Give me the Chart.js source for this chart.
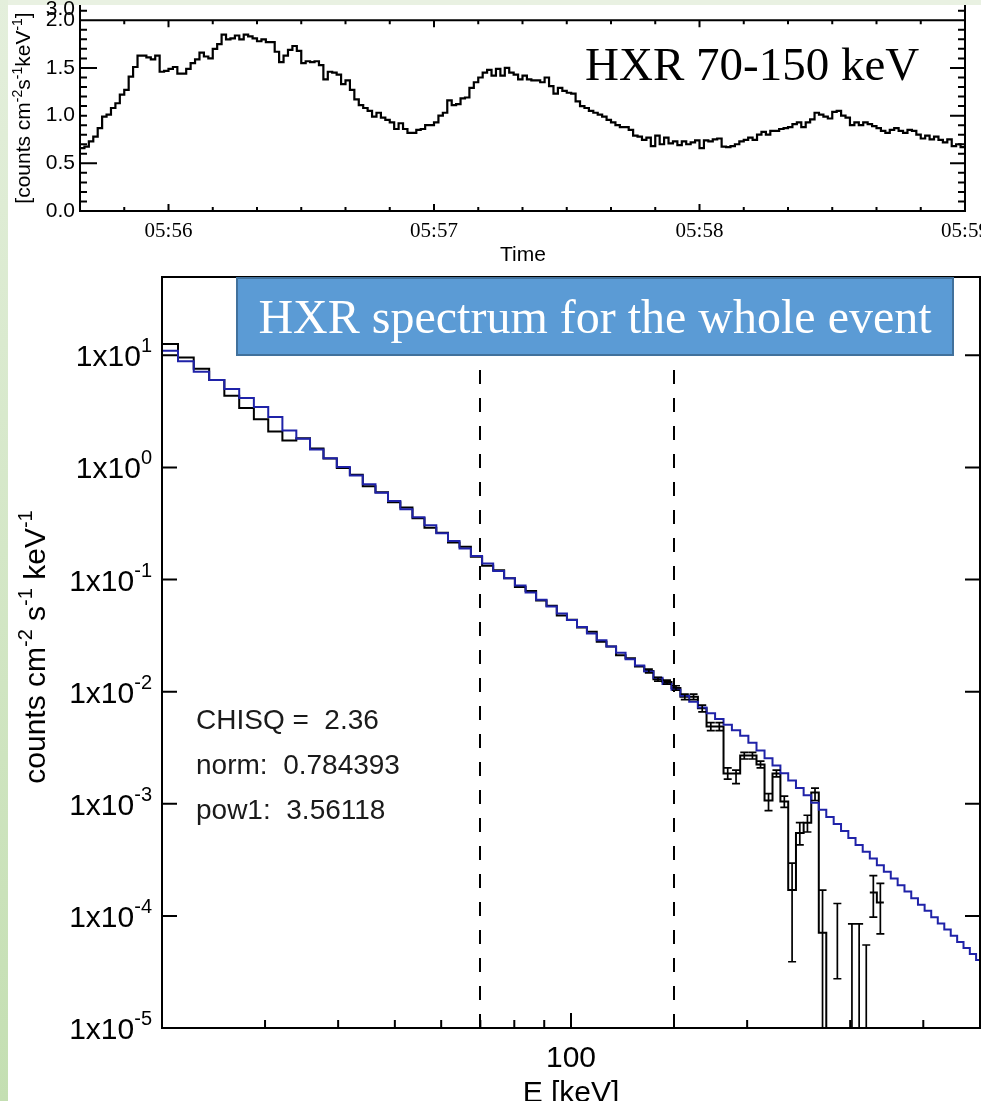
<!DOCTYPE html>
<html>
<head>
<meta charset="utf-8">
<title>HXR light curve and spectrum</title>
<script src="https://cdn.jsdelivr.net/npm/chart.js@4.4.1/dist/chart.umd.min.js"></script>
<style>
  html, body { margin: 0; padding: 0; background: #fff; }
  body { width: 981px; height: 1101px; position: relative; overflow: hidden; }
  #stripTop { position: absolute; left: 0; top: 0; width: 981px; height: 5px; background: #e9f1e2; }
  #stripLeft { position: absolute; left: 0; top: 0; width: 8px; height: 1101px; background: linear-gradient(#e4efdc, #c4dfb2); }
  canvas { position: absolute; left: 0; }
  #lcCanvas { top: 0; }
  #specCanvas { top: 270px; }
</style>
</head>
<body>
<div id="stripTop"></div>
<div id="stripLeft"></div>
<canvas id="lcCanvas" width="981" height="270"></canvas>
<canvas id="specCanvas" width="981" height="831"></canvas>
<script>
// ---- light curve, 70-150 keV, 1 s bins from 05:55:40 ----
const lcStartSec = 0;
const lcBinSec = 1;
const lcRate = [
  0.66, 0.675, 0.73, 0.78, 0.87, 0.99, 1.01, 1.08, 1.13, 1.22,
  1.27, 1.41, 1.51, 1.63, 1.63, 1.61, 1.59, 1.63, 1.46, 1.47,
  1.49, 1.51, 1.44, 1.44, 1.49, 1.55, 1.59, 1.66, 1.62, 1.60,
  1.70, 1.75, 1.85, 1.80, 1.81, 1.84, 1.80, 1.85, 1.83, 1.81,
  1.78, 1.80, 1.77, 1.77, 1.67, 1.56, 1.63, 1.69, 1.73, 1.68,
  1.55, 1.57, 1.56, 1.57, 1.53, 1.38, 1.46, 1.45, 1.43, 1.33,
  1.37, 1.27, 1.17, 1.11, 1.08, 1.05, 0.99,
  1.03, 0.98, 0.955, 0.93, 0.86, 0.92, 0.86, 0.82, 0.82, 0.85,
  0.86, 0.90, 0.90, 0.93, 1.00, 1.03, 1.16, 1.11, 1.12, 1.18,
  1.19, 1.29, 1.35, 1.40, 1.45, 1.48, 1.42, 1.49, 1.42, 1.50,
  1.45, 1.43, 1.38, 1.42, 1.38, 1.37, 1.37, 1.35, 1.40, 1.31,
  1.23, 1.29, 1.26, 1.24, 1.23, 1.15, 1.10, 1.08, 1.05, 1.03,
  1.01, 0.99, 0.955, 0.93, 0.90, 0.88, 0.88, 0.85, 0.79, 0.78,
  0.745, 0.77, 0.68, 0.79, 0.70, 0.77, 0.71,
  0.73, 0.69, 0.73, 0.70, 0.72, 0.74, 0.66, 0.74, 0.73, 0.75,
  0.76, 0.675, 0.67, 0.68, 0.70, 0.73, 0.745, 0.77, 0.745, 0.80,
  0.83, 0.80, 0.84, 0.84, 0.86, 0.87, 0.88, 0.91, 0.93, 0.88,
  0.93, 0.96, 1.03, 1.01, 0.99, 0.97, 1.04, 1.05, 1.00, 0.98,
  0.90, 0.93, 0.90, 0.93, 0.91, 0.89, 0.87, 0.84, 0.82, 0.85,
  0.87, 0.84, 0.82, 0.85, 0.84, 0.80, 0.76, 0.79, 0.75, 0.78,
  0.745, 0.72, 0.75, 0.68, 0.70, 0.67
];
const lcTickSec = [20, 80, 140, 200];
const lcTickLabels = ['05:56', '05:57', '05:58', '05:59'];
const lcMinorSec = 10;
const lcYTicks = [0, 0.5, 1.0, 1.5, 2.0];
const lcLabel = 'HXR 70-150 keV';

// ---- spectrum: energy bin edges (keV), data and power-law model ----
const specEdges = [
  20.0, 21.3, 22.66, 24.08, 25.56, 27.1, 28.71, 30.38, 32.12, 33.93,
  35.81, 37.76, 39.79, 41.89, 44.07, 46.33, 48.67, 51.09, 53.59, 56.18,
  58.86, 61.63, 64.49, 67.44, 70.48, 73.62, 76.86, 80.19, 83.63, 87.17,
  90.81, 94.56, 98.42, 102.39, 106.47, 110.66, 114.97, 119.4, 123.95, 128.62,
  133.41, 138.32, 143.36, 148.52, 153.81, 159.23, 164.78, 170.47, 176.29, 182.25,
  188.35, 194.59, 200.97, 207.5, 214.17, 220.99, 227.96, 235.08, 242.36, 249.79,
  257.38, 265.14, 273.06, 281.14, 289.39, 297.81, 306.4, 315.16, 324.09, 333.2,
  342.49, 351.96, 361.62, 371.46, 381.48, 391.69, 402.09, 412.68, 423.47, 434.45,
  445.63, 457.01, 468.59, 480.37, 492.36, 504.56
];
const specModel = [
  11.0, 8.85, 7.14, 6.03, 5.01, 4.17, 3.47, 2.82, 2.14, 1.80,
  1.45, 1.21, 1.01, 0.847, 0.710, 0.596, 0.502, 0.425, 0.360, 0.305,
  0.259, 0.221, 0.189, 0.162, 0.139, 0.119, 0.103, 0.0885, 0.0766, 0.0662,
  0.0574, 0.0499, 0.0435, 0.0378, 0.0330, 0.0288, 0.0253, 0.0222, 0.0195, 0.0171,
  0.0151, 0.0133, 0.0117, 0.0104, 0.00918, 0.00813, 0.00721, 0.00641, 0.00570, 0.00508,
  0.00453, 0.00405, 0.00351, 0.00299, 0.00255, 0.00219, 0.00187, 0.00161, 0.00138, 0.00119,
  0.00102, 8.83e-4, 7.62e-4, 6.59e-4, 5.71e-4, 4.95e-4, 4.30e-4, 3.73e-4, 3.25e-4, 2.83e-4,
  2.47e-4, 2.15e-4, 1.88e-4, 1.65e-4, 1.44e-4, 1.26e-4, 1.11e-4, 9.75e-5, 8.57e-5, 7.55e-5,
  6.65e-5, 5.86e-5, 5.18e-5, 4.57e-5, 4.05e-5
];
const specData = [
  12.6, 9.55, 7.59, 6.03, 4.37, 3.39, 2.69, 2.09, 1.74, 1.82,
  1.48, 1.20, 0.99, 0.86, 0.68, 0.60, 0.49, 0.44, 0.352, 0.29,
  0.262, 0.214, 0.196, 0.160, 0.133, 0.121, 0.103, 0.0860, 0.0789, 0.0649,
  0.0585, 0.0479, 0.0439, 0.0374, 0.0343, 0.0279, 0.0253, 0.0211, 0.0199, 0.0168,
  0.0153, 0.0129, 0.0122, 0.0108, 0.0090, 0.0090, 0.0071, 0.0049, 0.0049, 0.00186,
  0.00186, 0.00269, 0.00269, 0.00224, 0.00107, 0.00186, 0.00105, 0.00017, 0.00055, 0.000676,
  0.00126, 7.08e-5, 1e-9, null, null, null, null, null, 1.62e-4, 1.32e-4,
  null, null, null, null, null, null, null, null, null, null,
  null, null, null, null, null
];
// error bars: bin index, lower and upper values
const errBin = [40, 41, 42, 43, 44, 45, 46, 47, 48, 49, 50, 51, 52, 53, 54, 55, 56, 57, 58, 59, 60, 61, 63, 65, 66, 67, 68, 69];
const errLo = [0.0147, 0.0124, 0.0117, 0.0103, 0.0085, 0.0085, 0.0066, 0.0045, 0.0045, 0.00166,
  0.00151, 0.00251, 0.00251, 0.00209, 0.00087, 0.00174, 0.00093, 3.9e-5, 0.00043, 0.00056,
  0.00107, 1e-9, 2.75e-5, 1e-9, 1e-9, 1e-9, 9.77e-5, 6.92e-5];
const errHi = [0.0159, 0.0134, 0.0127, 0.0113, 0.0095, 0.0095, 0.0076, 0.0053, 0.0053, 0.00209,
  0.00200, 0.00288, 0.00288, 0.00240, 0.00123, 0.00200, 0.00117, 2.95e-4, 0.00068, 0.00079,
  0.00138, 1.7e-4, 1.29e-4, 8.5e-5, 8.5e-5, 5.5e-5, 2.29e-4, 1.95e-4];
const fitRange = [70, 150];
const fitText = ['CHISQ =  2.36', 'norm:  0.784393', 'pow1:  3.56118'];
const specYExp = [-5, -4, -3, -2, -1, 0, 1];
const specXMajor = [100];
const specXMinor = [30, 40, 50, 60, 70, 80, 90, 200, 300, 400];
const specTitle = 'HXR spectrum for the whole event';

const SANS = "'Liberation Sans', Arial, sans-serif";
const SERIF = "'Liberation Serif', 'Times New Roman', serif";
Chart.defaults.font.family = SANS;
Chart.defaults.color = '#000';

function stepPoints(edges, vals) {
  const pts = [];
  for (let i = 0; i < vals.length; i++) {
    if (vals[i] == null) continue;
    pts.push({ x: edges[i], y: vals[i] });
    if (i === vals.length - 1 || vals[i + 1] == null) {
      pts.push({ x: edges[i + 1], y: vals[i] });
      pts.push({ x: edges[i + 1], y: null });
    }
  }
  return pts;
}

function partsWidth(ctx, parts, big, small) {
  let w = 0;
  for (const [t, sup] of parts) {
    ctx.font = sup ? small : big;
    w += ctx.measureText(t).width;
  }
  return w;
}

function drawParts(ctx, parts, x, y, big, small, rise) {
  for (const [t, sup] of parts) {
    ctx.font = sup ? small : big;
    ctx.fillText(t, x, sup ? y - rise : y);
    x += ctx.measureText(t).width;
  }
}

function drawRotated(ctx, parts, bx, cy, big, small, rise) {
  ctx.save();
  ctx.translate(bx, cy);
  ctx.rotate(-Math.PI / 2);
  ctx.textAlign = 'left';
  ctx.textBaseline = 'alphabetic';
  const w = partsWidth(ctx, parts, big, small);
  drawParts(ctx, parts, -w / 2, 0, big, small, rise);
  ctx.restore();
}

// ---------- top panel ----------
const lcEdges = lcRate.map((_, i) => lcStartSec + i * lcBinSec);
lcEdges.push(lcStartSec + lcRate.length * lcBinSec);

const lcDecor = {
  id: 'lcDecor',
  afterDraw(chart) {
    const { ctx, chartArea: a, scales: { x, y } } = chart;
    const yTop = y.getPixelForValue(lcYTicks[lcYTicks.length - 1]);
    ctx.save();
    ctx.strokeStyle = '#000';
    ctx.lineWidth = 2;
    ctx.beginPath();
    ctx.moveTo(a.left, a.top); ctx.lineTo(a.left, a.bottom);
    ctx.lineTo(a.right, a.bottom); ctx.lineTo(a.right, a.top);
    ctx.moveTo(a.left, yTop); ctx.lineTo(a.right, yTop);
    for (let s = lcMinorSec; s < x.max; s += lcMinorSec) {
      const px = x.getPixelForValue(s);
      const len = lcTickSec.includes(s) ? 7 : 4;
      ctx.moveTo(px, a.bottom); ctx.lineTo(px, a.bottom - len);
      ctx.moveTo(px, yTop); ctx.lineTo(px, yTop + len);
    }
    for (let k = 1; k <= 21; k++) {
      const py = y.getPixelForValue(k / 10);
      ctx.moveTo(a.left, py); ctx.lineTo(a.left + (k === 5 || k === 15 ? 17 : 7), py);
      ctx.moveTo(a.right, py); ctx.lineTo(a.right - (k === 5 || k === 10 || k === 15 ? 15 : 7), py);
    }
    ctx.stroke();

    ctx.fillStyle = '#000';
    ctx.font = '21px ' + SANS;
    ctx.textAlign = 'right';
    ctx.textBaseline = 'middle';
    ctx.fillText('3.0', a.left - 5, a.top + 4);

    ctx.textAlign = 'center';
    ctx.fillText('Time', 523, 255);

    ctx.font = '47px ' + SERIF;
    ctx.textAlign = 'left';
    ctx.textBaseline = 'alphabetic';
    ctx.fillText(lcLabel, 585, 80);

    drawRotated(ctx, [['[counts cm', false], ['-2', true], ['s', false], ['-1', true], ['keV', false], ['-1', true], [']', false]],
      30, 108, '21px ' + SANS, '14px ' + SANS, 8);
    ctx.restore();
  }
};

new Chart(document.getElementById('lcCanvas'), {
  type: 'line',
  data: {
    datasets: [{
      data: stepPoints(lcEdges, lcRate),
      borderColor: '#000',
      borderWidth: 2.2,
      stepped: true,
      pointRadius: 0,
      fill: false
    }]
  },
  options: {
    responsive: false,
    animation: false,
    devicePixelRatio: 1,
    layout: { padding: { top: 5, right: 16, left: 0, bottom: 0 } },
    plugins: { legend: { display: false }, tooltip: { enabled: false } },
    scales: {
      x: {
        type: 'linear',
        min: lcStartSec,
        max: lcEdges[lcEdges.length - 1],
        afterBuildTicks: s => { s.ticks = lcTickSec.map(v => ({ value: v })); },
        ticks: {
          callback: v => lcTickLabels[lcTickSec.indexOf(v)],
          font: { family: SERIF, size: 21 },
          color: '#000',
          padding: 8,
          maxRotation: 0,
          autoSkip: false
        },
        grid: { display: false, drawTicks: false },
        border: { display: false },
        afterFit: s => { s.height = 59; s.paddingLeft = 0; s.paddingRight = 0; }
      },
      y: {
        type: 'linear',
        min: 0,
        max: 2.16,
        afterBuildTicks: s => { s.ticks = lcYTicks.map(v => ({ value: v })); },
        ticks: {
          callback: v => v.toFixed(1),
          font: { family: SANS, size: 21 },
          color: '#000',
          padding: 5
        },
        grid: { display: false, drawTicks: false },
        border: { display: false },
        afterFit: s => { s.width = 80; s.paddingTop = 0; s.paddingBottom = 0; }
      }
    }
  },
  plugins: [lcDecor]
});

// ---------- spectrum panel ----------
const specDecor = {
  id: 'specDecor',
  beforeDatasetsDraw(chart) {
    const { ctx, chartArea: a, scales: { x } } = chart;
    ctx.save();
    ctx.strokeStyle = '#000';
    ctx.lineWidth = 2;
    ctx.setLineDash([14, 14]);
    for (const e of fitRange) {
      const px = Math.round(x.getPixelForValue(e));
      ctx.beginPath();
      ctx.moveTo(px, a.bottom);
      ctx.lineTo(px, a.top);
      ctx.stroke();
    }
    ctx.restore();
  },
  afterDatasetsDraw(chart) {
    const { ctx, chartArea: a, scales: { x, y } } = chart;
    ctx.save();
    ctx.beginPath();
    ctx.rect(a.left, a.top, a.right - a.left, a.bottom - a.top);
    ctx.clip();
    ctx.strokeStyle = '#000';
    ctx.lineWidth = 1.7;
    ctx.beginPath();
    errBin.forEach((b, k) => {
      const px = x.getPixelForValue(Math.sqrt(specEdges[b] * specEdges[b + 1]));
      const pLo = Math.min(y.getPixelForValue(errLo[k]), a.bottom + 6);
      const pHi = y.getPixelForValue(errHi[k]);
      ctx.moveTo(px, pLo); ctx.lineTo(px, pHi);
      ctx.moveTo(px - 4, pHi); ctx.lineTo(px + 4, pHi);
      ctx.moveTo(px - 4, pLo); ctx.lineTo(px + 4, pLo);
    });
    ctx.stroke();
    ctx.restore();
  },
  afterDraw(chart) {
    const { ctx, chartArea: a, scales: { x, y } } = chart;
    ctx.save();
    ctx.strokeStyle = '#000';
    ctx.lineWidth = 2;
    ctx.beginPath();
    ctx.rect(a.left, a.top, a.right - a.left, a.bottom - a.top);
    specYExp.forEach(d => {
      const py = y.getPixelForValue(Math.pow(10, d));
      ctx.moveTo(a.left, py); ctx.lineTo(a.left + 15, py);
      ctx.moveTo(a.right, py); ctx.lineTo(a.right - 15, py);
    });
    specXMajor.forEach(v => {
      const px = x.getPixelForValue(v);
      ctx.moveTo(px, a.bottom); ctx.lineTo(px, a.bottom - 15);
      ctx.moveTo(px, a.top); ctx.lineTo(px, a.top + 15);
    });
    specXMinor.forEach(v => {
      const px = x.getPixelForValue(v);
      ctx.moveTo(px, a.bottom); ctx.lineTo(px, a.bottom - 8);
      ctx.moveTo(px, a.top); ctx.lineTo(px, a.top + 8);
    });
    ctx.stroke();

    // y tick labels 1x10^n
    ctx.fillStyle = '#000';
    ctx.textAlign = 'left';
    ctx.textBaseline = 'alphabetic';
    const big = '30px ' + SANS, small = '20px ' + SANS;
    specYExp.forEach(d => {
      const py = y.getPixelForValue(Math.pow(10, d));
      const parts = [['1x10', false], [String(d), true]];
      const w = partsWidth(ctx, parts, big, small);
      drawParts(ctx, parts, 152 - w, py + 11, big, small, 14);
    });

    // axis titles
    drawRotated(ctx, [['counts cm', false], ['-2', true], [' s', false], ['-1', true], [' keV', false], ['-1', true]],
      45, 377, big, small, 13);
    ctx.font = big;
    ctx.textAlign = 'center';
    ctx.fillText('E [keV]', x.getPixelForValue(specXMajor[0]), 832);

    // fit results
    ctx.textAlign = 'left';
    ctx.font = '28px ' + SANS;
    ctx.fillStyle = '#1a1a1a';
    [459, 504, 549].forEach((by, i) => ctx.fillText(fitText[i], 196, by));

    // title box
    ctx.fillStyle = '#5b9bd5';
    ctx.fillRect(237, 8, 716, 77);
    ctx.strokeStyle = '#41719c';
    ctx.lineWidth = 2;
    ctx.strokeRect(237, 8, 716, 77);
    ctx.fillStyle = '#fff';
    ctx.font = '48px ' + SERIF;
    ctx.textAlign = 'center';
    ctx.fillText(specTitle, 595, 63);
    ctx.restore();
  }
};

new Chart(document.getElementById('specCanvas'), {
  type: 'line',
  data: {
    datasets: [
      {
        label: 'model',
        data: stepPoints(specEdges, specModel),
        borderColor: '#1f22a8',
        borderWidth: 2,
        stepped: true,
        pointRadius: 0,
        fill: false
      },
      {
        label: 'data',
        data: stepPoints(specEdges, specData),
        borderColor: '#000',
        borderWidth: 2,
        stepped: true,
        pointRadius: 0,
        fill: false
      }
    ]
  },
  options: {
    responsive: false,
    animation: false,
    devicePixelRatio: 1,
    layout: { padding: { top: 7, right: 1, left: 0, bottom: 0 } },
    plugins: { legend: { display: false }, tooltip: { enabled: false } },
    scales: {
      x: {
        type: 'logarithmic',
        min: specEdges[0],
        max: 500,
        afterBuildTicks: s => { s.ticks = specXMajor.map(v => ({ value: v })); },
        ticks: {
          callback: v => String(v),
          font: { family: SANS, size: 30 },
          color: '#000',
          padding: 13,
          maxRotation: 0,
          autoSkip: false
        },
        grid: { display: false, drawTicks: false },
        border: { display: false },
        afterFit: s => { s.height = 73; s.paddingLeft = 0; s.paddingRight = 0; }
      },
      y: {
        type: 'logarithmic',
        min: 1e-5,
        max: 50,
        ticks: { display: false },
        grid: { display: false, drawTicks: false },
        border: { display: false },
        afterFit: s => { s.width = 162; s.paddingTop = 0; s.paddingBottom = 0; }
      }
    }
  },
  plugins: [specDecor]
});
</script>
</body>
</html>
